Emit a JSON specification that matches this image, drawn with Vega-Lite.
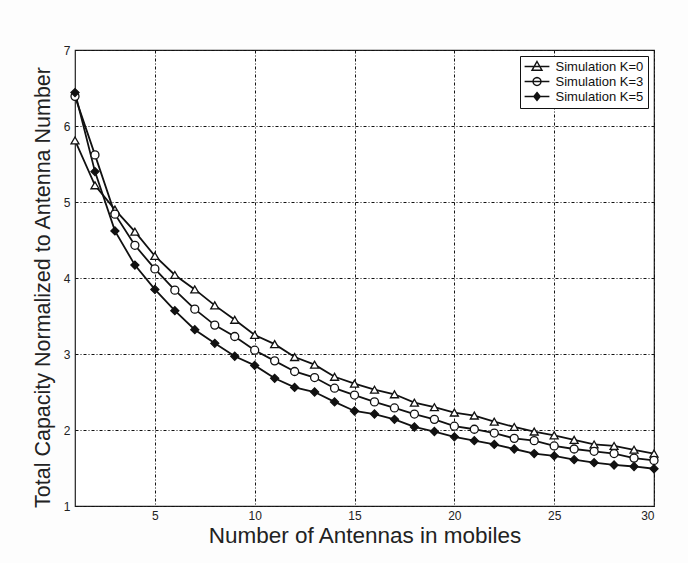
{
  "$schema": "https://vega.github.io/schema/vega-lite/v6.json",
  "width": 579,
  "height": 456,
  "autosize": {"type": "none"},
  "padding": {"left": 75, "top": 50, "right": 34, "bottom": 57},
  "background": "#fdfdfd",
  "config": {
    "font": "Liberation Sans",
    "view": {"stroke": "#222", "strokeWidth": 1.2, "fill": "white"},
    "axis": {
      "grid": true,
      "gridColor": "#111",
      "gridOpacity": 1,
      "gridWidth": 1,
      "gridDash": [3, 2, 1, 2],
      "domain": false,
      "ticks": false,
      "labelFont": "Liberation Sans",
      "labelFontSize": 12,
      "labelColor": "#222",
      "titleFont": "Liberation Sans",
      "titleFontWeight": "normal",
      "titleColor": "#222"
    }
  },
  "data": {
    "values": [
      {"n": 1, "series": "Simulation K=0", "cap": 5.81},
      {"n": 2, "series": "Simulation K=0", "cap": 5.22},
      {"n": 3, "series": "Simulation K=0", "cap": 4.90},
      {"n": 4, "series": "Simulation K=0", "cap": 4.61},
      {"n": 5, "series": "Simulation K=0", "cap": 4.29},
      {"n": 6, "series": "Simulation K=0", "cap": 4.04},
      {"n": 7, "series": "Simulation K=0", "cap": 3.85},
      {"n": 8, "series": "Simulation K=0", "cap": 3.64},
      {"n": 9, "series": "Simulation K=0", "cap": 3.45},
      {"n": 10, "series": "Simulation K=0", "cap": 3.25},
      {"n": 11, "series": "Simulation K=0", "cap": 3.13},
      {"n": 12, "series": "Simulation K=0", "cap": 2.96},
      {"n": 13, "series": "Simulation K=0", "cap": 2.86},
      {"n": 14, "series": "Simulation K=0", "cap": 2.70},
      {"n": 15, "series": "Simulation K=0", "cap": 2.61},
      {"n": 16, "series": "Simulation K=0", "cap": 2.53},
      {"n": 17, "series": "Simulation K=0", "cap": 2.47},
      {"n": 18, "series": "Simulation K=0", "cap": 2.36},
      {"n": 19, "series": "Simulation K=0", "cap": 2.30},
      {"n": 20, "series": "Simulation K=0", "cap": 2.23},
      {"n": 21, "series": "Simulation K=0", "cap": 2.19},
      {"n": 22, "series": "Simulation K=0", "cap": 2.11},
      {"n": 23, "series": "Simulation K=0", "cap": 2.04},
      {"n": 24, "series": "Simulation K=0", "cap": 1.98},
      {"n": 25, "series": "Simulation K=0", "cap": 1.93},
      {"n": 26, "series": "Simulation K=0", "cap": 1.87},
      {"n": 27, "series": "Simulation K=0", "cap": 1.81},
      {"n": 28, "series": "Simulation K=0", "cap": 1.79},
      {"n": 29, "series": "Simulation K=0", "cap": 1.74},
      {"n": 30, "series": "Simulation K=0", "cap": 1.69},
      {"n": 1, "series": "Simulation K=3", "cap": 6.39},
      {"n": 2, "series": "Simulation K=3", "cap": 5.62},
      {"n": 3, "series": "Simulation K=3", "cap": 4.84},
      {"n": 4, "series": "Simulation K=3", "cap": 4.43},
      {"n": 5, "series": "Simulation K=3", "cap": 4.12},
      {"n": 6, "series": "Simulation K=3", "cap": 3.84},
      {"n": 7, "series": "Simulation K=3", "cap": 3.59},
      {"n": 8, "series": "Simulation K=3", "cap": 3.38},
      {"n": 9, "series": "Simulation K=3", "cap": 3.23},
      {"n": 10, "series": "Simulation K=3", "cap": 3.05},
      {"n": 11, "series": "Simulation K=3", "cap": 2.91},
      {"n": 12, "series": "Simulation K=3", "cap": 2.77},
      {"n": 13, "series": "Simulation K=3", "cap": 2.69},
      {"n": 14, "series": "Simulation K=3", "cap": 2.55},
      {"n": 15, "series": "Simulation K=3", "cap": 2.46},
      {"n": 16, "series": "Simulation K=3", "cap": 2.37},
      {"n": 17, "series": "Simulation K=3", "cap": 2.29},
      {"n": 18, "series": "Simulation K=3", "cap": 2.21},
      {"n": 19, "series": "Simulation K=3", "cap": 2.14},
      {"n": 20, "series": "Simulation K=3", "cap": 2.05},
      {"n": 21, "series": "Simulation K=3", "cap": 2.01},
      {"n": 22, "series": "Simulation K=3", "cap": 1.96},
      {"n": 23, "series": "Simulation K=3", "cap": 1.89},
      {"n": 24, "series": "Simulation K=3", "cap": 1.86},
      {"n": 25, "series": "Simulation K=3", "cap": 1.79},
      {"n": 26, "series": "Simulation K=3", "cap": 1.75},
      {"n": 27, "series": "Simulation K=3", "cap": 1.72},
      {"n": 28, "series": "Simulation K=3", "cap": 1.69},
      {"n": 29, "series": "Simulation K=3", "cap": 1.63},
      {"n": 30, "series": "Simulation K=3", "cap": 1.60},
      {"n": 1, "series": "Simulation K=5", "cap": 6.44},
      {"n": 2, "series": "Simulation K=5", "cap": 5.40},
      {"n": 3, "series": "Simulation K=5", "cap": 4.62},
      {"n": 4, "series": "Simulation K=5", "cap": 4.17},
      {"n": 5, "series": "Simulation K=5", "cap": 3.85},
      {"n": 6, "series": "Simulation K=5", "cap": 3.57},
      {"n": 7, "series": "Simulation K=5", "cap": 3.32},
      {"n": 8, "series": "Simulation K=5", "cap": 3.14},
      {"n": 9, "series": "Simulation K=5", "cap": 2.97},
      {"n": 10, "series": "Simulation K=5", "cap": 2.85},
      {"n": 11, "series": "Simulation K=5", "cap": 2.68},
      {"n": 12, "series": "Simulation K=5", "cap": 2.56},
      {"n": 13, "series": "Simulation K=5", "cap": 2.50},
      {"n": 14, "series": "Simulation K=5", "cap": 2.37},
      {"n": 15, "series": "Simulation K=5", "cap": 2.25},
      {"n": 16, "series": "Simulation K=5", "cap": 2.21},
      {"n": 17, "series": "Simulation K=5", "cap": 2.14},
      {"n": 18, "series": "Simulation K=5", "cap": 2.04},
      {"n": 19, "series": "Simulation K=5", "cap": 1.98},
      {"n": 20, "series": "Simulation K=5", "cap": 1.91},
      {"n": 21, "series": "Simulation K=5", "cap": 1.86},
      {"n": 22, "series": "Simulation K=5", "cap": 1.81},
      {"n": 23, "series": "Simulation K=5", "cap": 1.75},
      {"n": 24, "series": "Simulation K=5", "cap": 1.69},
      {"n": 25, "series": "Simulation K=5", "cap": 1.66},
      {"n": 26, "series": "Simulation K=5", "cap": 1.61},
      {"n": 27, "series": "Simulation K=5", "cap": 1.57},
      {"n": 28, "series": "Simulation K=5", "cap": 1.54},
      {"n": 29, "series": "Simulation K=5", "cap": 1.52},
      {"n": 30, "series": "Simulation K=5", "cap": 1.49}
    ]
  },
  "encoding": {
    "x": {
      "field": "n",
      "type": "quantitative",
      "scale": {"domain": [1, 30], "nice": false, "zero": false},
      "axis": {"values": [5, 10, 15, 20, 25, 30], "labelPadding": 4, "title": "Number of Antennas in mobiles", "titleFontSize": 22.5, "titlePadding": 3}
    },
    "y": {
      "field": "cap",
      "type": "quantitative",
      "scale": {"domain": [1, 7], "nice": false, "zero": false},
      "axis": {"values": [1, 2, 3, 4, 5, 6, 7], "labelPadding": 5, "title": "Total Capacity Normalized to Antenna Number", "titleFontSize": 21.5, "titlePadding": 9, "titleY": 237}
    }
  },
  "layer": [
    {
      "mark": {"type": "line", "color": "#111", "strokeWidth": 1.8},
      "encoding": {"detail": {"field": "series"}}
    },
    {
      "mark": {"type": "point", "size": 64, "strokeWidth": 1.3, "stroke": "#111", "opacity": 1},
      "encoding": {
        "shape": {
          "field": "series",
          "type": "nominal",
          "scale": {
            "domain": ["Simulation K=0", "Simulation K=3", "Simulation K=5"],
            "range": ["triangle-up", "circle", "diamond"]
          },
          "legend": null
        },
        "fill": {
          "field": "series",
          "type": "nominal",
          "scale": {
            "domain": ["Simulation K=0", "Simulation K=3", "Simulation K=5"],
            "range": ["white", "white", "#111"]
          },
          "legend": null
        }
      }
    },
    {
      "mark": {"type": "point", "size": 0, "strokeWidth": 1.4, "stroke": "#111", "opacity": 1},
      "encoding": {
        "shape": {
          "field": "series",
          "type": "nominal",
          "scale": {
            "domain": ["Simulation K=0", "Simulation K=3", "Simulation K=5"],
            "range": [
              "M-3.1,0L3.1,0M0,-1.25L1.25,0.95L-1.25,0.95Z",
              "M-3.1,0L3.1,0M1,0L0.924,0.383L0.707,0.707L0.383,0.924L0,1L-0.383,0.924L-0.707,0.707L-0.924,0.383L-1,0L-0.924,-0.383L-0.707,-0.707L-0.383,-0.924L0,-1L0.383,-0.924L0.707,-0.707L0.924,-0.383Z",
              "M-3.1,0L3.1,0M0,-1L0.8,0L0,1L-0.8,0Z"
            ]
          },
          "legend": {
            "title": null,
            "orient": "top-right",
            "offset": 6,
            "strokeColor": "#111",
            "fillColor": "white",
            "padding": 4,
            "labelFont": "Liberation Sans",
            "labelFontSize": 13,
            "labelColor": "#111",
            "symbolSize": 64,
            "symbolOffset": 6.5,
            "labelOffset": 12,
            "rowPadding": 0,
            "symbolStrokeColor": "#111",
            "symbolStrokeWidth": 1.4,
            "symbolOpacity": 1,
            "encoding": {
              "symbols": {
                "fill": {"value": {"expr": "datum.value === 'Simulation K=5' ? '#111' : 'white'"}},
                "stroke": {"value": "#111"},
                "strokeWidth": {"value": 1.4}
              }
            }
          }
        }
      }
    }
  ],
  "resolve": {"scale": {"shape": "independent"}}
}
